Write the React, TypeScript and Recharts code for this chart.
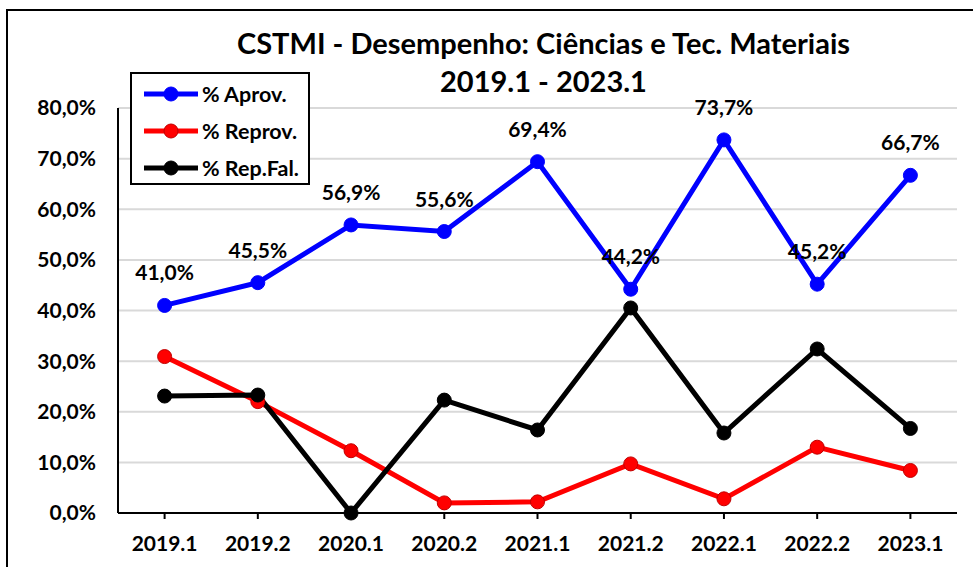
import React from 'react';
import { LineChart, Line, XAxis, YAxis, CartesianGrid, Legend, LabelList } from 'recharts';

const periods = ['2019.1', '2019.2', '2020.1', '2020.2', '2021.1', '2021.2', '2022.1', '2022.2', '2023.1'];
const aprov = [41.0, 45.5, 56.9, 55.6, 69.4, 44.2, 73.7, 45.2, 66.7];
const reprov = [30.9, 22.0, 12.3, 2.0, 2.2, 9.7, 2.8, 13.0, 8.4];
const repFal = [23.1, 23.3, 0.0, 22.3, 16.4, 40.5, 15.8, 32.4, 16.7];
const yTicks = [0, 10, 20, 30, 40, 50, 60, 70, 80];
const seriesNames = ['% Aprov.', '% Reprov.', '% Rep.Fal.'];
const titleLines = ['CSTMI - Desempenho: Ciências e Tec. Materiais', '2019.1 - 2023.1'];

const data = periods.map((p, i) => ({ period: p, aprov: aprov[i], reprov: reprov[i], repFal: repFal[i] }));

const FONT = 'Lato, "Open Sans", sans-serif';
const fmt = (v: number) => v.toFixed(1).replace('.', ',') + '%';

const legendItems = [
  { name: seriesNames[0], color: '#0000ff', stroke: '#0000ff' },
  { name: seriesNames[1], color: '#ff0000', stroke: '#c00000' },
  { name: seriesNames[2], color: '#000000', stroke: '#000000' },
];

const LegendBox = () => (
  <div
    style={{
      width: 176,
      height: 109,
      border: '2px solid #000',
      background: '#fff',
      boxSizing: 'content-box',
      fontFamily: FONT,
      fontWeight: 700,
      fontSize: 21.5,
      color: '#000',
    }}
  >
    {legendItems.map((it, i) => (
      <div key={i} style={{ height: 37, marginTop: i === 0 ? 1 : 0, display: 'flex', alignItems: 'center' }}>
        <svg width={66} height={20} style={{ marginLeft: 10 }}>
          <line x1={2} y1={10} x2={56} y2={10} stroke={it.color} strokeWidth={5} />
          <circle cx={29} cy={10} r={7} fill={it.color} stroke={it.stroke} strokeWidth={1} />
        </svg>
        <span style={{ marginLeft: -6, whiteSpace: 'nowrap' }}>{it.name}</span>
      </div>
    ))}
  </div>
);

const tickStyle = { fill: '#000', fontFamily: FONT, fontWeight: 700, fontSize: 21 };

export default function App() {
  return (
    <div style={{ position: 'absolute', left: 0, top: 0, width: 973, height: 567, overflow: 'hidden', background: '#fff' }}>
      <div
        style={{
          position: 'absolute',
          left: 6,
          top: 9,
          width: 1000,
          height: 700,
          border: '2px solid #000',
        }}
      />
      <div
        style={{
          position: 'absolute',
          left: 0,
          top: 24,
          width: 1087,
          textAlign: 'center',
          fontFamily: FONT,
          fontWeight: 700,
          fontSize: 29,
          lineHeight: '38px',
          color: '#000',
          whiteSpace: 'nowrap',
        }}
      >
        <div>{titleLines[0]}</div>
        <div>{titleLines[1]}</div>
      </div>
      <div style={{ position: 'absolute', left: 0, top: 0 }}>
        <LineChart
          width={973}
          height={567}
          data={data}
          margin={{ top: 108, right: 16, bottom: 14, left: 38 }}
        >
          <CartesianGrid horizontal vertical={false} stroke="#d9d9d9" strokeWidth={2} />
          <XAxis
            dataKey="period"
            padding={{ left: 46.6, right: 46.6 }}
            height={40}
            axisLine={{ stroke: '#000', strokeWidth: 2 }}
            tickLine={{ stroke: '#000', strokeWidth: 2 }}
            tickSize={6}
            tickMargin={17}
            tick={tickStyle}
            interval={0}
          />
          <YAxis
            domain={[0, 80]}
            ticks={yTicks}
            width={80}
            axisLine={{ stroke: '#000', strokeWidth: 2 }}
            tickLine={false}
            tickSize={0}
            tickMargin={22}
            tickFormatter={fmt}
            tick={tickStyle}
          />
          <Legend
            layout="vertical"
            align="center"
            verticalAlign="middle"
            wrapperStyle={{ left: 130, top: 72, width: 180, height: 113 }}
            content={() => <LegendBox />}
          />
          <Line
            dataKey="aprov"
            name={seriesNames[0]}
            stroke="#0000ff"
            strokeWidth={5}
            dot={{ r: 7, fill: '#0000ff', stroke: '#0000ff', strokeWidth: 1 }}
            isAnimationActive={false}
          >
            <LabelList
              dataKey="aprov"
              position="top"
              offset={25}
              formatter={(v: any) => fmt(Number(v))}
              style={tickStyle}
            />
          </Line>
          <Line
            dataKey="reprov"
            name={seriesNames[1]}
            stroke="#ff0000"
            strokeWidth={5}
            dot={{ r: 7, fill: '#ff0000', stroke: '#c00000', strokeWidth: 1 }}
            isAnimationActive={false}
          />
          <Line
            dataKey="repFal"
            name={seriesNames[2]}
            stroke="#000000"
            strokeWidth={5}
            dot={{ r: 7, fill: '#000000', stroke: '#000000', strokeWidth: 1 }}
            isAnimationActive={false}
          />
        </LineChart>
      </div>
    </div>
  );
}
